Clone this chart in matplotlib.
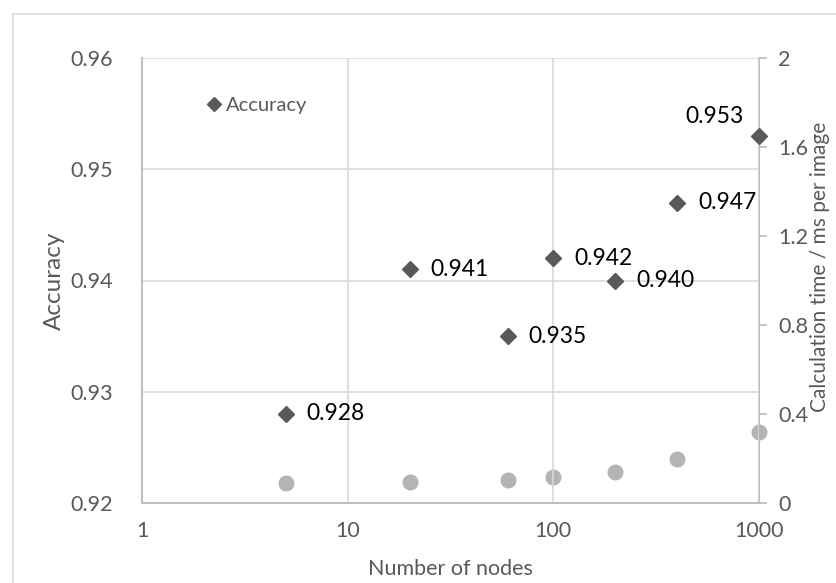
import matplotlib
matplotlib.use("Agg")
import matplotlib.pyplot as plt
from matplotlib.patches import Rectangle
from matplotlib.lines import Line2D

plt.rcParams['font.family'] = ['Lato', 'DejaVu Sans']

# Data
nodes = [5, 20, 60, 100, 200, 400, 1000]
accuracy = [0.928, 0.941, 0.935, 0.942, 0.940, 0.947, 0.953]
calc_time = [0.09, 0.093, 0.105, 0.115, 0.14, 0.20, 0.32]
x_ticks = [1, 10, 100, 1000]
acc_ticks = [0.92, 0.93, 0.94, 0.95, 0.96]
time_ticks = [0, 0.4, 0.8, 1.2, 1.6, 2]

TEXT = '#595959'
GRID = '#d9d9d9'
AXIS = '#bfbfbf'
DIAMOND = '#595959'
DOT = '#b4b4b4'

fig = plt.figure(figsize=(8.37, 5.83), dpi=100)

# chart frame
fig.patches.append(Rectangle((13 / 837, -0.1), 1.2, 1 - 14 / 583 + 0.1,
                             transform=fig.transFigure, fill=False,
                             edgecolor='#d9d9d9', linewidth=1.2))

ax = fig.add_axes([142 / 837, 1 - 503 / 583, (759 - 142) / 837, (503 - 58) / 583])
ax2 = ax.twinx()

ax.set_xscale('log')
ax.set_xlim(1, 1000)
ax.set_ylim(0.92, 0.96)
ax2.set_ylim(0, 2)

ax.set_xticks(x_ticks)
ax.set_xticklabels([str(t) for t in x_ticks])
ax.xaxis.set_minor_locator(matplotlib.ticker.NullLocator())
ax.set_yticks(acc_ticks)
ax.set_yticklabels([f'{t:.2f}' for t in acc_ticks])
ax2.set_yticks(time_ticks)
ax2.set_yticklabels([f'{t:g}' for t in time_ticks])

ax.grid(True, which='major', color=GRID, linewidth=1.2)
ax.set_axisbelow(True)

for a in (ax, ax2):
    for s in a.spines.values():
        s.set_visible(False)
ax.spines['bottom'].set_visible(True)
ax.spines['bottom'].set_color(AXIS)
ax.spines['bottom'].set_linewidth(1.5)
ax.spines['left'].set_visible(True)
ax.spines['left'].set_color(AXIS)
ax.spines['left'].set_linewidth(1.5)
ax2.spines['right'].set_visible(True)
ax2.spines['right'].set_color(AXIS)
ax2.spines['right'].set_linewidth(1.5)

ax.tick_params(axis='x', length=0, pad=13, labelsize=15.5, labelcolor=TEXT)
ax.tick_params(axis='y', length=0, pad=21, labelsize=15.5, labelcolor=TEXT)
ax2.tick_params(axis='y', length=6, width=1.3, color=AXIS, direction='out',
                pad=8, labelsize=15.5, labelcolor=TEXT)

ax.set_xlabel('Number of nodes', fontsize=15.5, color=TEXT, labelpad=13)
ax.set_ylabel('Accuracy', fontsize=17.5, color=TEXT, labelpad=4)
ax2.set_ylabel('Calculation time / ms per image', fontsize=15, color=TEXT)
ax2.yaxis.set_label_coords(1.0826, 0.53)

ax2.plot(nodes, calc_time, linestyle='none', marker='o', markersize=10.5,
         color=DOT, clip_on=False, zorder=3)
ax.plot(nodes, accuracy, linestyle='none', marker='D', markersize=8.5,
        color=DIAMOND, clip_on=False, zorder=4)

ax.set_zorder(ax2.get_zorder() + 1)
ax.patch.set_visible(False)

for n, v in zip(nodes, accuracy):
    if n == nodes[-1]:
        ax.annotate(f'{v:.3f}', (n, v), xytext=(-11, 14), textcoords='offset points',
                    ha='right', va='center', fontsize=16.5, color='black')
    else:
        ax.annotate(f'{v:.3f}', (n, v), xytext=(15, 0), textcoords='offset points',
                    ha='left', va='center', fontsize=16.5, color='black')

handle = Line2D([], [], linestyle='none', marker='D', markersize=7.5, color=DIAMOND)
ax.legend([handle], ['Accuracy'], loc='center left', bbox_to_anchor=(0.087, 0.894),
          frameon=False, fontsize=14.5, labelcolor=TEXT, handletextpad=0.1,
          handlelength=1.0, borderaxespad=0)

fig.savefig('out.png', dpi=100)
